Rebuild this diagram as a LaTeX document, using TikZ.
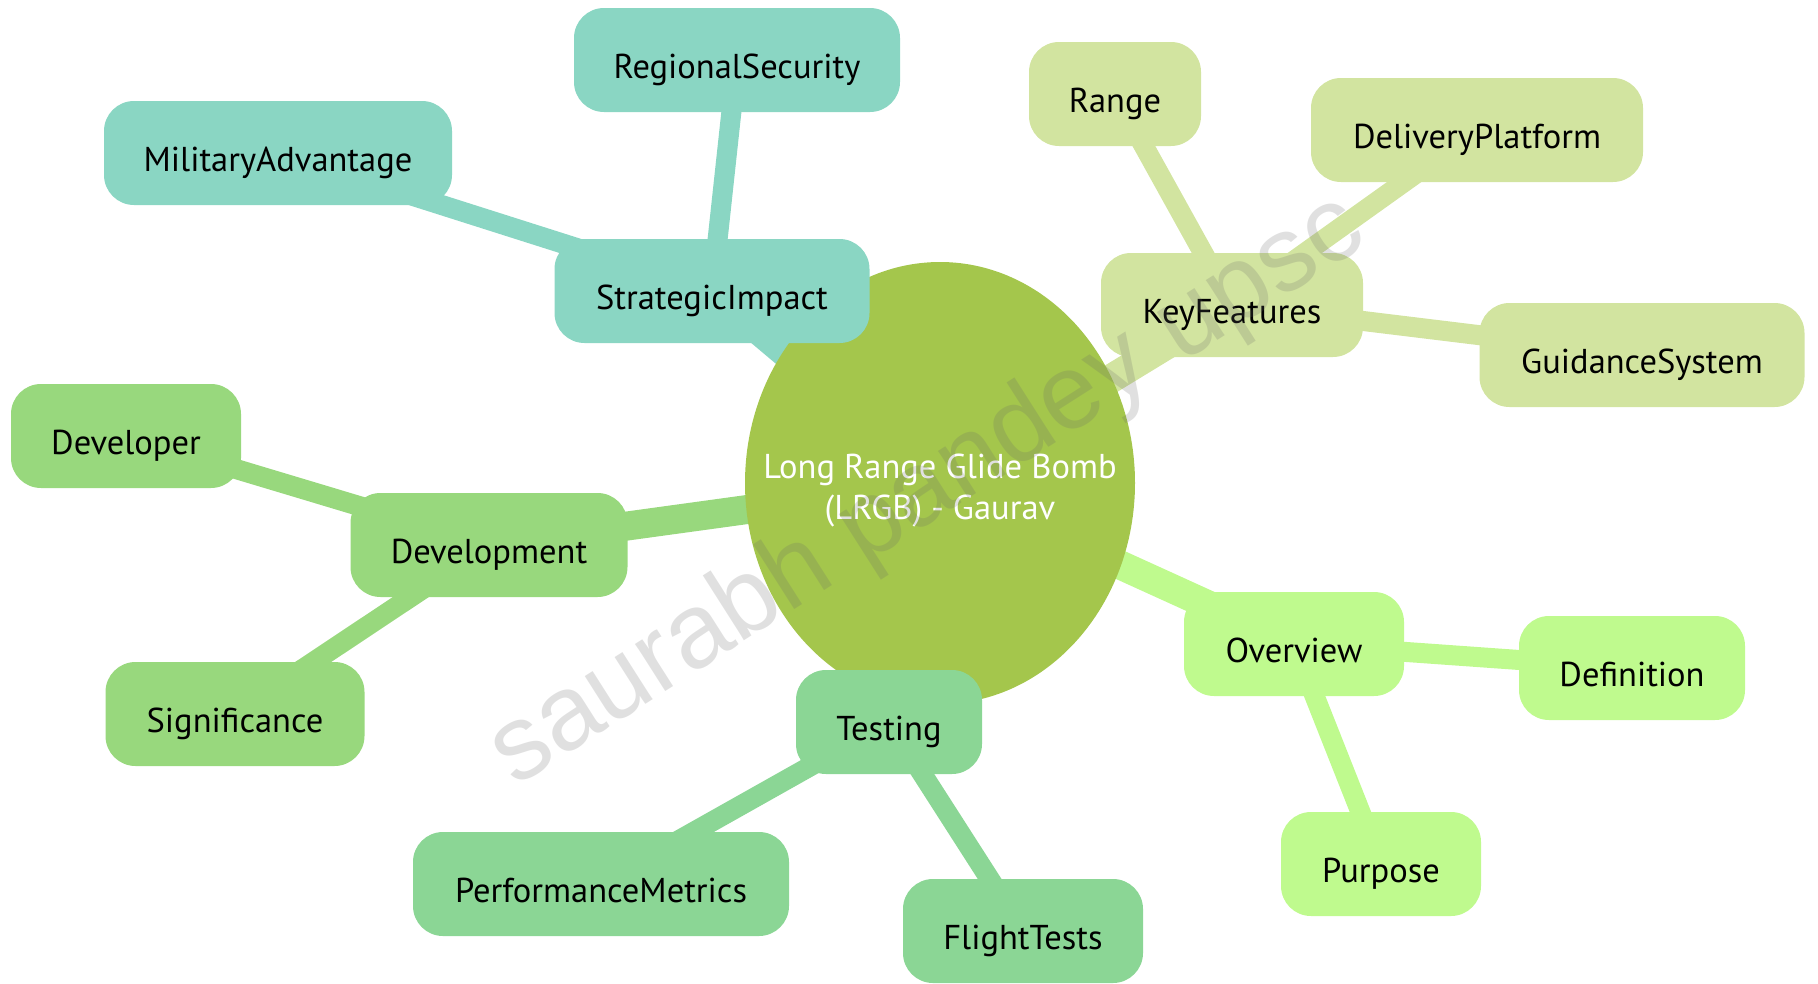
\documentclass[tikz,border=0pt]{standalone}
\usepackage{fontspec}
\setmainfont{PT Sans}
\newfontfamily\markfont{Liberation Sans}
\usetikzlibrary{shapes.geometric,backgrounds}

\definecolor{rootc}{HTML}{A4C64C}
\definecolor{tealc}{HTML}{8AD6C3}
\definecolor{featc}{HTML}{D2E4A0}
\definecolor{devc}{HTML}{98D87D}
\definecolor{testc}{HTML}{8BD695}
\definecolor{overc}{HTML}{BFFA8E}

\tikzset{
  leaf/.style={rectangle, rounded corners=30pt, minimum height=104pt,
    inner sep=0pt, text height=36pt, text depth=0pt, text=black,
    font=\fontsize{34.5}{40}\selectfont},
  rootnode/.style={ellipse, minimum width=390pt, minimum height=442pt,
    inner sep=0pt, fill=rootc},
  roottext/.style={text=white, align=center, inner sep=0pt,
    font=\fontsize{34.5}{41}\selectfont},
  rootedge/.style={line width=29pt},
  childedge/.style={line width=20pt},
  watermark/.style={text=black!60, opacity=0.2,
    font=\markfont\fontsize{106}{106}\selectfont}
}

\begin{document}
\begin{tikzpicture}[x=1pt,y=-1pt]
\useasboundingbox (0,0) rectangle (1818,983);

% central topic
\node[rootnode] (root) at (940,483) {};
\node[roottext] (roottitle) at (940,491) {Long Range Glide Bomb\\(LRGB) - Gaurav};

% strategic impact branch
\node[leaf, fill=tealc, minimum width=315pt] (strat) at (712,291) {StrategicImpact};
\node[leaf, fill=tealc, minimum width=326pt] (regsec) at (737,60) {RegionalSecurity};
\node[leaf, fill=tealc, minimum width=348pt] (miladv) at (278,153) {MilitaryAdvantage};

% key features branch
\node[leaf, fill=featc, minimum width=262pt] (keyf) at (1232,305) {KeyFeatures};
\node[leaf, fill=featc, minimum width=172pt] (range) at (1115,94) {Range};
\node[leaf, fill=featc, minimum width=332pt] (deliv) at (1477,130) {DeliveryPlatform};
\node[leaf, fill=featc, minimum width=325pt] (guid) at (1642,355) {GuidanceSystem};

% development branch
\node[leaf, fill=devc, minimum width=277pt] (devel) at (489,545) {Development};
\node[leaf, fill=devc, minimum width=230pt] (developer) at (126,436) {Developer};
\node[leaf, fill=devc, minimum width=259pt] (signif) at (235,714) {Significance};

% overview branch
\node[leaf, fill=overc, minimum width=220pt] (over) at (1294,644) {Overview};
\node[leaf, fill=overc, minimum width=226pt] (defn) at (1632,668) {Definition};
\node[leaf, fill=overc, minimum width=200pt] (purp) at (1381,864) {Purpose};

% testing branch
\node[leaf, fill=testc, minimum width=186pt] (test) at (889,722) {Testing};
\node[leaf, fill=testc, minimum width=376pt] (perf) at (601,884) {PerformanceMetrics};
\node[leaf, fill=testc, minimum width=240pt] (flight) at (1023,931) {FlightTests};

% connectors behind the nodes
\begin{scope}[on background layer]
  \draw[rootedge, tealc] (root.center) -- (strat.center);
  \draw[rootedge, featc] (root.center) -- (keyf.center);
  \draw[rootedge, devc] (root.center) -- (devel.center);
  \draw[rootedge, overc] (root.center) -- (over.center);
  \draw[rootedge, testc] (root.center) -- (test.center);
  \draw[childedge, tealc] (strat.center) -- (regsec.center);
  \draw[childedge, tealc] (strat.center) -- (miladv.center);
  \draw[childedge, featc] (keyf.center) -- (range.center);
  \draw[childedge, featc] (keyf.center) -- (deliv.center);
  \draw[childedge, featc] (keyf.center) -- (guid.center);
  \draw[childedge, devc] (devel.center) -- (developer.center);
  \draw[childedge, devc] (devel.center) -- (signif.center);
  \draw[childedge, overc] (over.center) -- (defn.center);
  \draw[childedge, overc] (over.center) -- (purp.center);
  \draw[childedge, testc] (test.center) -- (perf.center);
  \draw[childedge, testc] (test.center) -- (flight.center);
\end{scope}

% watermark across the map
\node[watermark, rotate=32.5] (wm) at (928,492) {saurabh pandey upsc};
\end{tikzpicture}
\end{document}
